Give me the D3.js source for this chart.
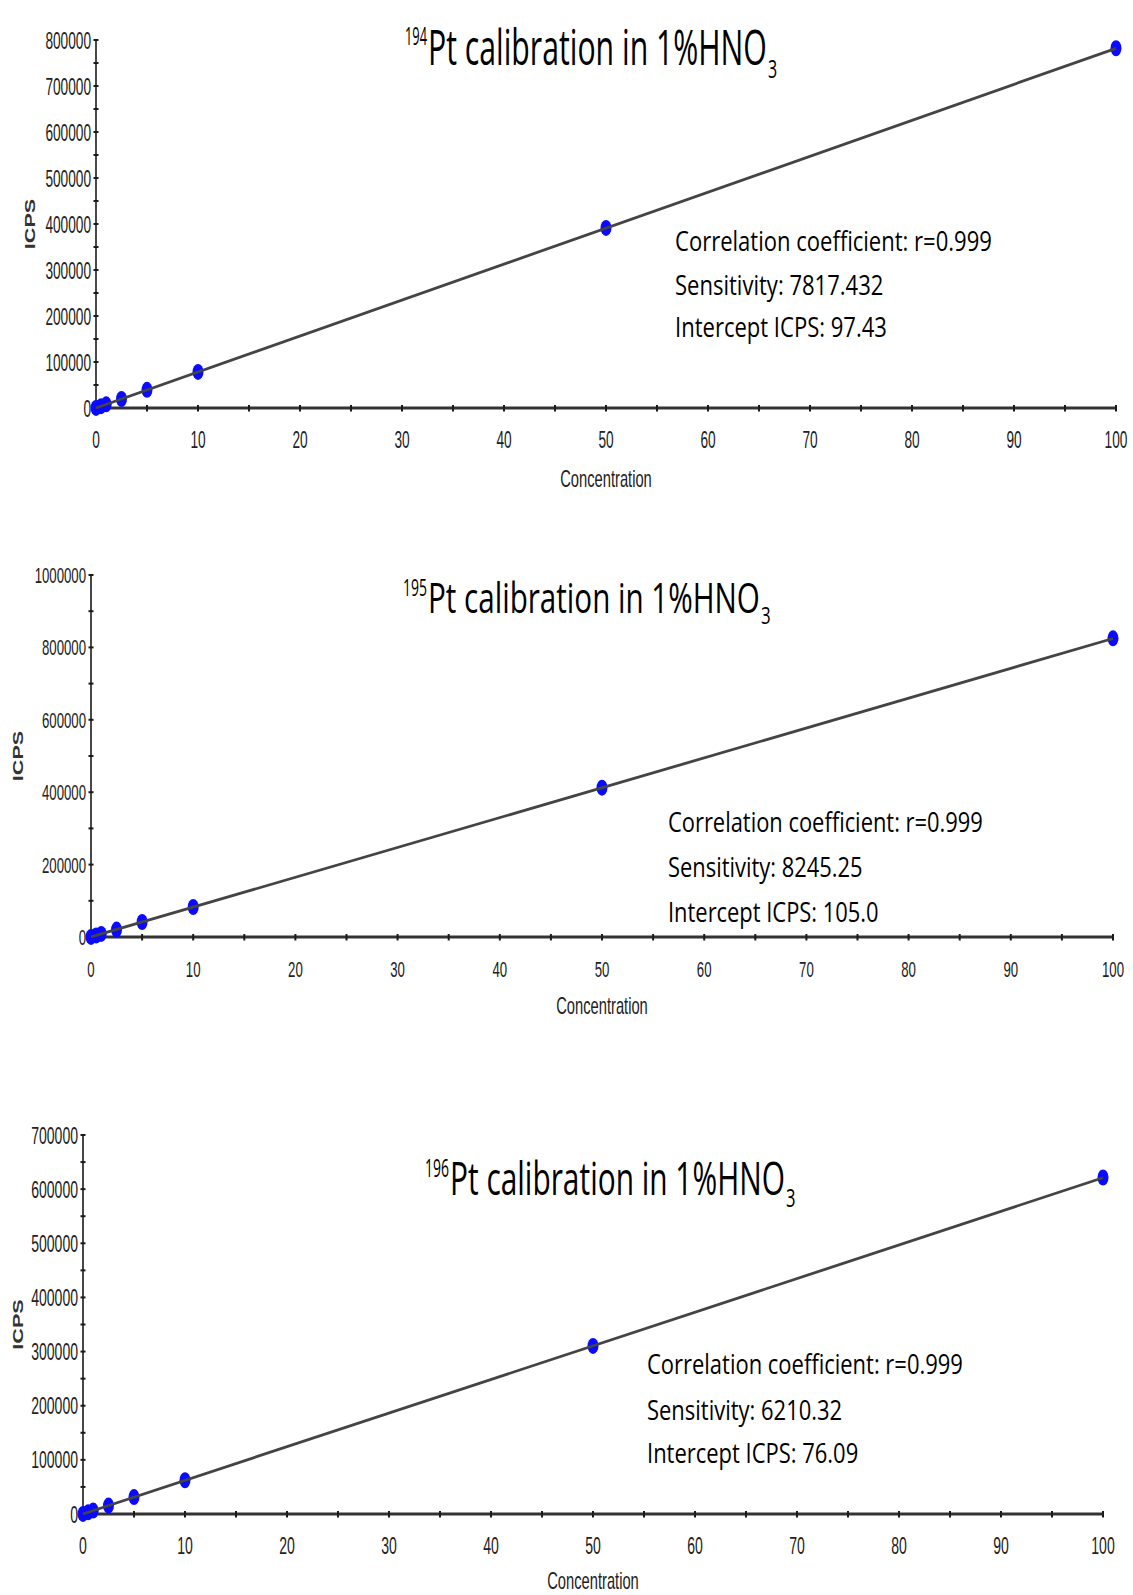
<!DOCTYPE html>
<html>
<head>
<meta charset="utf-8">
<script src="https://cdn.jsdelivr.net/npm/d3@7"></script>
<style>
  html, body { margin: 0; padding: 0; background: #fff; }
  svg { display: block; }
</style>
</head>
<body>
<script>
// Calibration standards (µg/L) and measured intensities for each Pt isotope
const concentrations = [0, 0.5, 1, 2.5, 5, 10, 50, 100];
const icps194 = [110, 3950, 7980, 19500, 39600, 78500, 391500, 782000];
const icps195 = [120, 4200, 8400, 20600, 41500, 82800, 412500, 825000];
const icps196 = [80, 3150, 6300, 15500, 31200, 62300, 310500, 621500];

const isotopes = ["194", "195", "196"];
const sensitivities = [7817.432, 8245.25, 6210.32];
const intercepts = [97.43, 105.0, 76.09];
const sensitivityLabels = ["7817.432", "8245.25", "6210.32"];
const interceptLabels = ["97.43", "105.0", "76.09"];
const correlationLabels = ["0.999", "0.999", "0.999"];

const xTicks = [0, 10, 20, 30, 40, 50, 60, 70, 80, 90, 100];
const yMaxima = [800000, 1000000, 700000];
const yMajorSteps = [100000, 200000, 100000];

const seriesList = [icps194, icps195, icps196];

// Page geometry for each of the three stacked panels
const layouts = [
  { left: 96, right: 1116, top: 40, bottom: 408, tickFont: 24, tickScale: 0.57, ylabX: 30, concDy: 79,
    title: { sup: 405, main: 428, mainEnd: 767, base: 65, font: 49, supFont: 26 },
    note: { x: 675, width: 317, bases: [251, 295, 337], font: 28 } },
  { left: 91, right: 1113, top: 575, bottom: 937, tickFont: 22, tickScale: 0.6, ylabX: 18, concDy: 77,
    title: { sup: 403, main: 428, mainEnd: 760, base: 613, font: 42, supFont: 24 },
    note: { x: 668, width: 315, bases: [832, 877, 922], font: 28 } },
  { left: 83, right: 1103, top: 1135, bottom: 1514, tickFont: 24, tickScale: 0.585, ylabX: 18, concDy: 75,
    title: { sup: 425, main: 450, mainEnd: 785, base: 1195, font: 45, supFont: 25 },
    note: { x: 647, width: 316, bases: [1374, 1420, 1463], font: 28 } }
];

const W = 1133, H = 1595;
const svg = d3.select("body").append("svg").attr("width", W).attr("height", H);

const tickFamily = "'Liberation Sans', Arial, sans-serif";
const textFamily = "'Open Sans', 'Noto Sans', sans-serif";

// Squeeze a text element horizontally so its width equals `target`
function fitWidth(sel, x, y, target) {
  const w = sel.node().getComputedTextLength();
  const sx = target / w;
  sel.attr("x", 0).attr("y", 0)
     .attr("transform", `translate(${x},${y}) scale(${sx},1)`);
  return sx;
}

seriesList.forEach((values, i) => {
  const L = layouts[i];
  const g = svg.append("g");

  const x = d3.scaleLinear().domain([0, 100]).range([L.left, L.right]);
  const y = d3.scaleLinear().domain([0, yMaxima[i]]).range([L.bottom, L.top]);

  const yMajor = d3.range(0, yMaxima[i] + 1, yMajorSteps[i]);
  const yMinor = d3.range(yMajorSteps[i] / 2, yMaxima[i], yMajorSteps[i]);
  const xMinor = d3.range(5, 100, 10);

  // Y axis line and ticks
  g.append("line")
    .attr("x1", x(0)).attr("x2", x(0))
    .attr("y1", y(0)).attr("y2", y(yMaxima[i]))
    .attr("stroke", "#1a1a1a").attr("stroke-width", 1.6);
  g.selectAll(".ytk").data(yMajor.concat(yMinor)).join("line")
    .attr("x1", x(0) - 2.5).attr("x2", x(0) + 2.5)
    .attr("y1", d => y(d)).attr("y2", d => y(d))
    .attr("stroke", "#1a1a1a").attr("stroke-width", 2);

  // X axis line and ticks
  g.append("line")
    .attr("x1", x(0)).attr("x2", x(100))
    .attr("y1", y(0)).attr("y2", y(0))
    .attr("stroke", "#333").attr("stroke-width", 3);
  g.selectAll(".xtk").data(xTicks.concat(xMinor)).join("line")
    .attr("x1", d => x(d)).attr("x2", d => x(d))
    .attr("y1", y(0) - 3).attr("y2", y(0) + 3.5)
    .attr("stroke", "#1a1a1a").attr("stroke-width", 2);

  // Y tick labels
  g.selectAll(".ylab").data(yMajor).join("text")
    .attr("text-anchor", "end")
    .attr("font-family", tickFamily)
    .attr("font-size", L.tickFont)
    .attr("fill", "#222")
    .attr("transform", d => `translate(${x(0) - 5},${y(d) + L.tickFont * 0.36}) scale(${L.tickScale},1)`)
    .text(d => d3.format("d")(d));

  // X tick labels
  g.selectAll(".xlab").data(xTicks).join("text")
    .attr("text-anchor", "middle")
    .attr("font-family", tickFamily)
    .attr("font-size", L.tickFont)
    .attr("fill", "#222")
    .attr("transform", d => `translate(${x(d)},${y(0) + 40}) scale(${L.tickScale},1)`)
    .text(d => d);

  // Axis titles
  g.append("text")
    .attr("text-anchor", "middle")
    .attr("font-family", tickFamily)
    .attr("font-size", 23)
    .attr("fill", "#222")
    .attr("transform", `translate(${(L.left + L.right) / 2},${y(0) + L.concDy}) scale(0.64,1)`)
    .text("Concentration");
  g.append("text")
    .attr("text-anchor", "middle")
    .attr("font-family", tickFamily)
    .attr("font-weight", "bold")
    .attr("font-size", 14)
    .attr("fill", "#333")
    .attr("transform", `translate(${L.ylabX + 5},${(L.top + L.bottom) / 2}) rotate(-90) scale(1.55,1)`)
    .text("ICPS");

  // Calibration points
  g.selectAll(".pt").data(concentrations.map((c, k) => [c, values[k]])).join("ellipse")
    .attr("cx", d => x(d[0])).attr("cy", d => y(d[1]))
    .attr("rx", 5.5).attr("ry", 8)
    .attr("fill", "#0a0aff");

  // Fitted calibration line
  const fit = c => sensitivities[i] * c + intercepts[i];
  g.append("path")
    .datum([0, 100])
    .attr("d", d3.line().x(c => x(c)).y(c => y(fit(c))))
    .attr("stroke", "#444").attr("stroke-width", 2.8).attr("fill", "none");

  // Title: superscript mass number, main text, subscript 3
  const T = L.title;
  const main = g.append("text")
    .attr("font-family", textFamily).attr("font-size", T.font).attr("fill", "#000")
    .text("Pt calibration in 1%HNO");
  const sx = fitWidth(main, T.main, T.base, T.mainEnd - T.main);
  const sup = g.append("text")
    .attr("font-family", textFamily).attr("font-size", T.supFont).attr("fill", "#000")
    .text(isotopes[i]);
  fitWidth(sup, T.sup, T.base - T.font * 0.4, T.main - T.sup - 1);
  g.append("text")
    .attr("font-family", textFamily).attr("font-size", T.supFont).attr("fill", "#000")
    .attr("transform", `translate(${T.mainEnd + 1},${T.base + T.font * 0.27}) scale(${sx},1)`)
    .text("3");

  // Regression statistics
  const N = L.note;
  const lines = [
    `Correlation coefficient: r=${correlationLabels[i]}`,
    `Sensitivity: ${sensitivityLabels[i]}`,
    `Intercept ICPS: ${interceptLabels[i]}`
  ];
  const first = g.append("text")
    .attr("font-family", textFamily).attr("font-size", N.font).attr("fill", "#000")
    .text(lines[0]);
  const nsx = fitWidth(first, N.x, N.bases[0], N.width);
  lines.slice(1).forEach((t, k) => {
    g.append("text")
      .attr("font-family", textFamily).attr("font-size", N.font).attr("fill", "#000")
      .attr("transform", `translate(${N.x},${N.bases[k + 1]}) scale(${nsx},1)`)
      .text(t);
  });
});
</script>
</body>
</html>
